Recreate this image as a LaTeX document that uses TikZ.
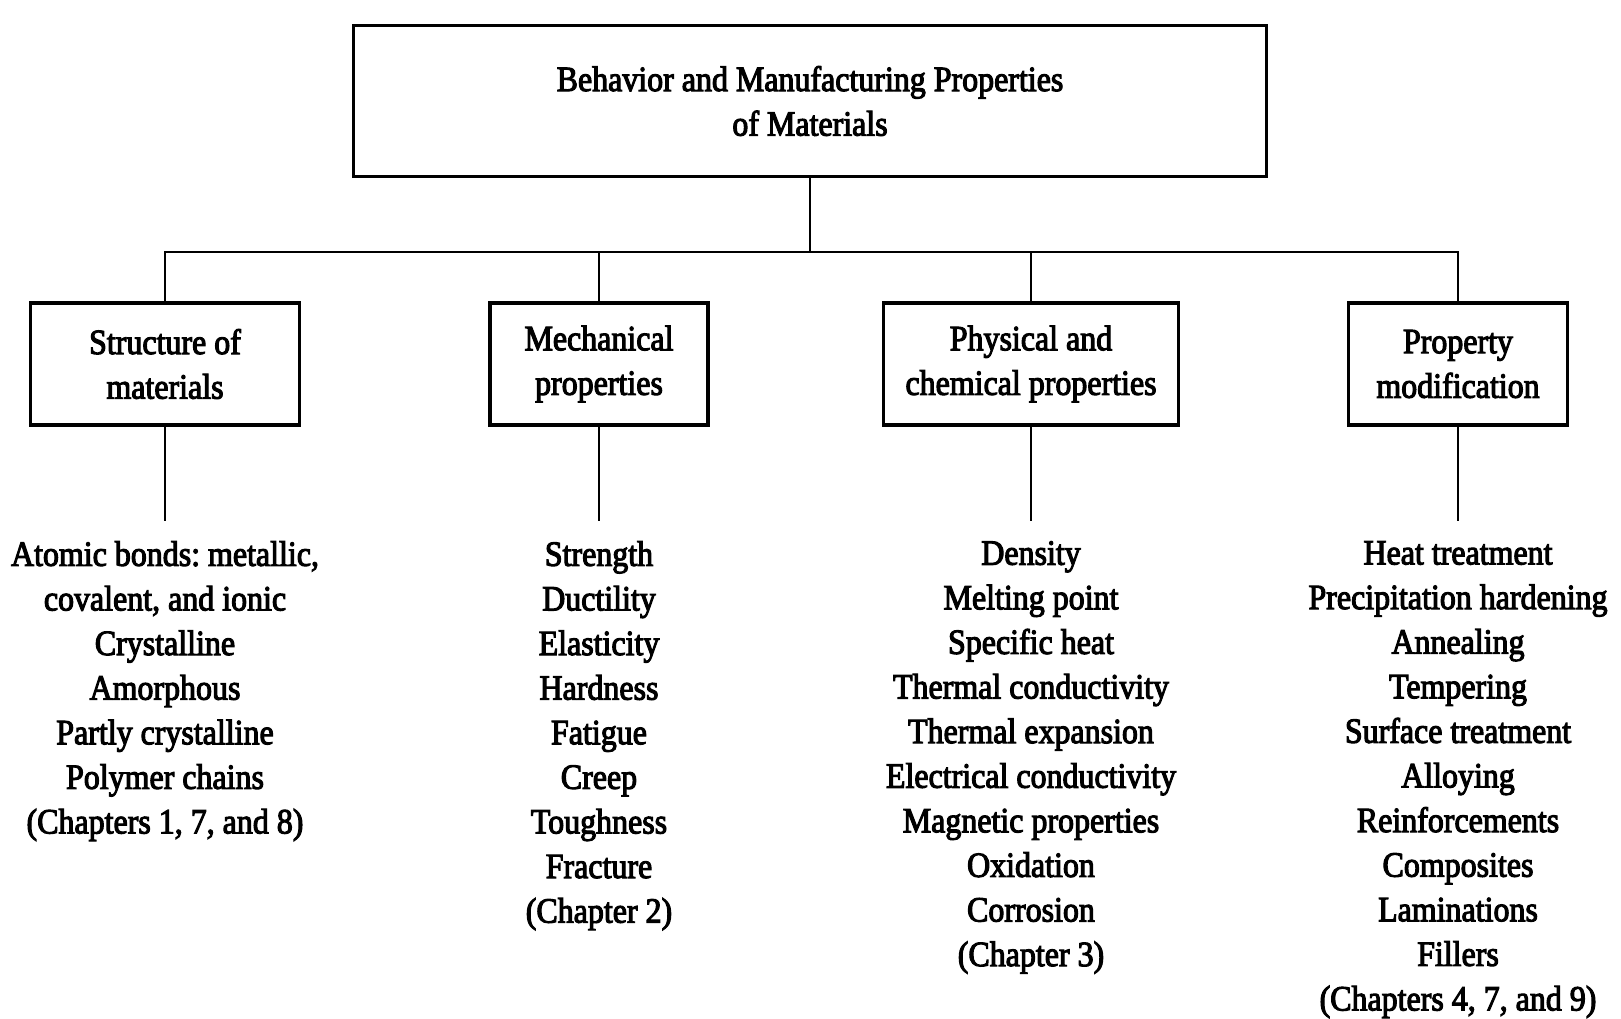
\documentclass[tikz,border=0pt]{standalone}
\usepackage{fontspec}
\setmainfont{Liberation Serif}[FakeBold=3, FakeStretch=0.9]
\frenchspacing
\begin{document}
\begin{tikzpicture}[x=1pt,y=-1pt,
  every node/.style={inner sep=0pt, align=center, font=\fontsize{35.5}{44.6}\selectfont},
  topbox/.style={draw, line width=3.8pt, rectangle, minimum width=913pt, minimum height=151pt},
  catbox/.style={draw, line width=3.6pt, rectangle, minimum height=122pt},
  itemlist/.style={anchor=north},
  link/.style={line width=2.4pt}]
\useasboundingbox (0,0) rectangle (1621,1019);

% root of the tree
\node[topbox] (top) at (810,101) {Behavior and Manufacturing Properties\\of Materials};

% the four categories
\node[catbox, minimum width=269pt] (s1) at (165,364) {Structure of\\materials};
\node[catbox, minimum width=218pt] (s2) at (599,364) {Mechanical\\properties};
\node[catbox, minimum width=295pt] (s3) at (1031,364) {Physical and\\chemical properties};
\node[catbox, minimum width=219pt] (s4) at (1458,364) {Property\\modification};

% item lists under each category
\node[itemlist] (l1) at (165,541) {Atomic bonds: metallic,\\covalent, and ionic\\Crystalline\\Amorphous\\Partly crystalline\\Polymer chains\\(Chapters 1, 7, and 8)};
\node[itemlist] (l2) at (599,541) {Strength\\Ductility\\Elasticity\\Hardness\\Fatigue\\Creep\\Toughness\\Fracture\\(Chapter 2)};
\node[itemlist] (l3) at (1031,541) {Density\\Melting point\\Specific heat\\Thermal conductivity\\Thermal expansion\\Electrical conductivity\\Magnetic properties\\Oxidation\\Corrosion\\(Chapter 3)};
\node[itemlist] (l4) at (1458,541) {Heat treatment\\Precipitation hardening\\Annealing\\Tempering\\Surface treatment\\Alloying\\Reinforcements\\Composites\\Laminations\\Fillers\\(Chapters 4, 7, and 9)};

% branching connectors
\coordinate (hub) at (810,252);
\draw[link] (top.south) -- (hub);
\draw[link] (s1.north) |- (hub) -| (s4.north);
\draw[link] (s2.north) -- (s2.north |- hub);
\draw[link] (s3.north) -- (s3.north |- hub);

% stems from categories to their lists
\foreach \i in {1,2,3,4}
  \draw[link, shorten >=20pt] (s\i.south) -- (l\i.north);
\end{tikzpicture}
\end{document}
